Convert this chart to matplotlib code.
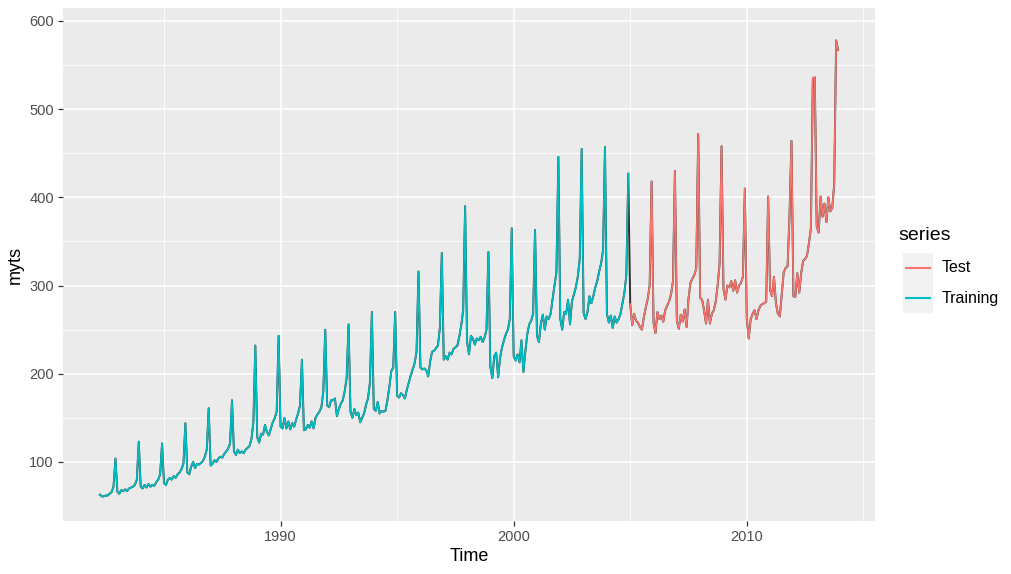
import numpy as np
import matplotlib.pyplot as plt
from matplotlib.patches import Rectangle
from matplotlib.lines import Line2D

plt.rcParams['font.family'] = ['Liberation Sans', 'DejaVu Sans']

# monthly series, starts April 1982
start_year = 1982
start_month = 4

train_values = [
    63, 61, 61, 62, 62, 64, 66, 72, 104,                       # 1982 Apr-Dec
    66, 64, 68, 67, 69, 67, 70, 71, 72, 74, 80, 123,           # 1983
    72, 70, 74, 71, 75, 72, 74, 73, 77, 80, 86, 121,           # 1984
    76, 74, 80, 82, 80, 84, 82, 86, 88, 92, 98, 144,           # 1985
    88, 86, 95, 100, 93, 98, 97, 99, 101, 106, 114, 161,       # 1986
    96, 98, 102, 100, 104, 106, 105, 109, 112, 115, 121, 170,  # 1987
    112, 108, 114, 110, 112, 110, 114, 116, 118, 126, 145, 232,
    128, 122, 132, 131, 142, 134, 130, 138, 145, 150, 157, 243,
    140, 138, 150, 138, 146, 137, 144, 140, 148, 155, 164, 216,
    136, 137, 142, 139, 146, 138, 150, 154, 157, 162, 180, 250,
    164, 162, 170, 170, 172, 152, 160, 166, 170, 180, 195, 256,
    157, 150, 160, 153, 156, 145, 150, 155, 165, 172, 190, 270,
    160, 158, 168, 155, 158, 157, 158, 170, 185, 203, 207, 270,
    175, 173, 178, 176, 172, 182, 190, 198, 205, 212, 225, 316,
    207, 205, 206, 204, 197, 214, 225, 226, 229, 232, 252, 337,
    216, 220, 216, 224, 222, 228, 230, 232, 242, 255, 272, 390,
    236, 222, 243, 240, 233, 240, 238, 242, 236, 241, 250, 338,
    208, 195, 220, 224, 196, 218, 230, 238, 245, 250, 262, 365,
    220, 215, 222, 213, 238, 202, 225, 245, 256, 260, 268, 363,
    243, 236, 257, 267, 250, 265, 262, 268, 284, 300, 315, 446,
    262, 250, 270, 268, 284, 256, 282, 290, 298, 310, 330, 455,
    269, 262, 270, 288, 280, 288, 298, 305, 316, 325, 340, 457,
    268, 258, 266, 252, 265, 258, 262, 268, 280, 292, 312, 427,  # 2004
]

test_values = [
    279, 255, 268, 260, 258, 253, 250, 264, 275, 285, 300, 418,  # 2005
    258, 246, 270, 262, 266, 259, 272, 277, 282, 290, 305, 430,
    260, 251, 267, 259, 273, 253, 285, 303, 308, 312, 320, 472,
    286, 284, 272, 257, 284, 257, 268, 272, 282, 300, 325, 458,
    296, 284, 300, 298, 305, 294, 306, 292, 300, 303, 310, 410,
    262, 240, 262, 268, 272, 262, 272, 277, 279, 280, 282, 401,
    295, 288, 310, 280, 268, 265, 290, 315, 320, 322, 380, 464,
    288, 287, 314, 292, 314, 328, 330, 334, 348, 365, 535, 536,
    367, 360, 401, 378, 393, 372, 400, 384, 388, 415, 578, 567,  # 2013
]

series_names = ['Test', 'Training']
series_colors = ['#F8766D', '#00BFC4']

all_values = np.array(train_values + test_values, dtype=float)
t0 = start_year + (start_month - 1) / 12
time = t0 + np.arange(len(all_values)) / 12
n_train = len(train_values)

W, H = 1011, 574
fig = plt.figure(figsize=(W / 100, H / 100), dpi=100)
left, right, top, bottom = 63, 875, 8, 521
ax = fig.add_axes([left / W, 1 - bottom / H, (right - left) / W, (bottom - top) / H])

ax.set_facecolor('#EBEBEB')
for s in ax.spines.values():
    s.set_visible(False)

# full series in black underneath, then the two windows
ax.plot(time, all_values, color='black', lw=1.4, alpha=0.8, zorder=2)
ax.plot(time[:n_train], all_values[:n_train], color=series_colors[1], lw=1.2,
        zorder=3)
ax.plot(time[n_train:], all_values[n_train:], color=series_colors[0], lw=1.2,
        zorder=3)

span = time[-1] - time[0]
ax.set_xlim(time[0] - 0.05 * span, time[-1] + 0.05 * span)
ax.set_ylim(33.1, 614.7)

ax.set_xticks([1990, 2000, 2010])
ax.set_xticks([1985, 1995, 2005, 2015], minor=True)
ax.set_yticks([100, 200, 300, 400, 500, 600])
ax.set_yticks([150, 250, 350, 450, 550], minor=True)
ax.grid(True, which='major', color='white', lw=1.2, zorder=0)
ax.grid(True, which='minor', color='white', lw=0.6, zorder=0)
ax.set_axisbelow(True)
ax.tick_params(which='major', length=3.5, width=0.9, color='#333333',
               labelcolor='#4D4D4D', labelsize=10.5, pad=3)
ax.tick_params(which='minor', length=0)

ax.set_xlabel('Time', fontsize=13, color='black', labelpad=3)
ax.set_ylabel('myts', fontsize=13, color='black', labelpad=4)


def fx(px):
    return px / W


def fy(py):
    return 1 - py / H


# legend drawn by hand to sit like ggplot's
fig.text(fx(898), fy(235), 'series', fontsize=14, va='center', ha='left')
fig.patches.append(Rectangle((fx(903), fy(313)), fx(30), (60) / H,
                             transform=fig.transFigure, facecolor='#F2F2F2',
                             edgecolor='none'))
for i, (name, col) in enumerate(zip(series_names, series_colors)):
    yy = fy(268 + 30 * i)
    fig.lines.append(Line2D([fx(906), fx(930)], [yy, yy], color=col, lw=1.5,
                            transform=fig.transFigure))
    fig.text(fx(942), yy, name, fontsize=11.5, va='center', ha='left')

fig.savefig('out.png', dpi=100)
